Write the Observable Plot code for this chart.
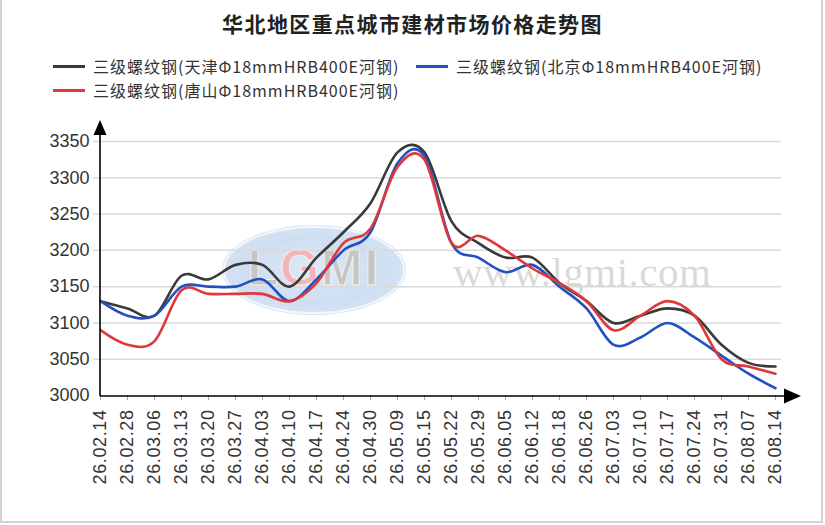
<!DOCTYPE html>
<html>
<head>
<meta charset="utf-8">
<script src="https://cdn.jsdelivr.net/npm/d3@7"></script>
<script src="https://cdn.jsdelivr.net/npm/@observablehq/plot@0.6"></script>
<style>
  body { margin: 0; background: #fff; }
  #wrap { position: relative; width: 825px; height: 525px; overflow: hidden; background: #fff; }
  #frame { position: absolute; left: 0; top: -2px; width: 819px; height: 521px; border: 2px solid #d2d2d2; }
  #title { position: absolute; left: 0; width: 825px; top: 9px; text-align: center;
    font-family: "Noto Sans CJK SC", sans-serif; font-weight: bold; font-size: 21px; line-height: 28px;
    letter-spacing: 1.4px; color: #222; }
  .leg { position: absolute; height: 20px; display: flex; align-items: center; white-space: nowrap; }
  .sw { display: inline-block; width: 32px; height: 3px; margin-right: 8px; }
  .lt { font-family: "Noto Sans CJK SC", sans-serif; font-size: 16px; line-height: 20px; letter-spacing: 1.0px; color: #333; }
  #logo { position: absolute; left: 225px; top: 228px; width: 178px; height: 84px; border-radius: 50%;
    background: radial-gradient(ellipse at center, #d9e6f4 0%, #c6d9ef 55%, #d3e1f2 85%, #eef3fa 100%);
    box-shadow: 0 0 0 2px #f4f7fb, 0 0 0 3px #d4e2f2; opacity: 0.85; }
  #logo span { position: absolute; left: 0; width: 178px; top: 12px; text-align: center;
    font-family: "Liberation Sans", Arial, sans-serif; font-weight: bold; font-size: 50px; line-height: 56px;
    color: #bdbdbd; letter-spacing: 2px; -webkit-text-stroke: 1px #eee; }
  #logo span b { color: #f2a7ad; }
  #wm { position: absolute; left: 453px; top: 252px; font-family: "Liberation Serif", serif; font-size: 41px;
    line-height: 40px; color: rgba(170,170,170,0.45); letter-spacing: 0.5px; }
  #chart { position: absolute; left: 0; top: 0; }
  .xax text { letter-spacing: 0.6px; }
</style>
</head>
<body>
<div id="wrap">
  <div id="logo"><span>L<b>G</b>MI</span></div>
  <div id="wm">www.lgmi.com</div>
  <div id="chart"></div>
  <div id="title">华北地区重点城市建材市场价格走势图</div>
  <div id="frame"></div>
</div>
<script>
const labels = ["26.02.14","26.02.28","26.03.06","26.03.13","26.03.20","26.03.27","26.04.03","26.04.10",
  "26.04.17","26.04.24","26.04.30","26.05.09","26.05.15","26.05.22","26.05.29","26.06.05","26.06.12",
  "26.06.18","26.06.26","26.07.03","26.07.10","26.07.17","26.07.24","26.07.31","26.08.07","26.08.14"];

const tianjin  = [3130,3120,3110,3165,3160,3180,3180,3150,3190,3225,3265,3335,3335,3240,3210,3190,3190,3155,3130,3100,3110,3120,3110,3070,3045,3040];
const beijing  = [3130,3110,3110,3150,3150,3150,3160,3130,3160,3200,3225,3320,3330,3210,3190,3170,3180,3150,3120,3070,3080,3100,3080,3055,3030,3010];
const tangshan = [3090,3070,3075,3145,3140,3140,3140,3130,3155,3210,3230,3315,3325,3210,3220,3200,3175,3155,3130,3090,3110,3130,3110,3050,3040,3030];

const seriesNames = ["三级螺纹钢(天津Φ18mmHRB400E河钢)", "三级螺纹钢(北京Φ18mmHRB400E河钢)", "三级螺纹钢(唐山Φ18mmHRB400E河钢)"];
const seriesColors = ["#3a3a3a", "#2150bf", "#e0383a"];
const yTicks = [3000, 3050, 3100, 3150, 3200, 3250, 3300, 3350];

// legend (HTML)
const legPos = [[53, 56], [416, 56], [53, 80]];
const wrap = document.getElementById("wrap");
seriesNames.forEach((name, i) => {
  const d = document.createElement("div");
  d.className = "leg";
  d.style.left = legPos[i][0] + "px";
  d.style.top = legPos[i][1] + "px";
  d.innerHTML = `<span class="sw" style="background:${seriesColors[i]}"></span><span class="lt">${name}</span>`;
  wrap.appendChild(d);
});

const series = [tianjin, beijing, tangshan];
const rows = [];
series.forEach((vals, s) => vals.forEach((v, i) => rows.push({date: labels[i], value: v, series: seriesNames[s]})));

const chart = Plot.plot({
  width: 825,
  height: 525,
  marginTop: 141,
  marginBottom: 130,
  marginLeft: 93,
  marginRight: 44,
  style: {background: "transparent", fontFamily: "'Liberation Sans', Arial, sans-serif", overflow: "visible"},
  x: {type: "point", domain: labels, padding: 0, label: null},
  y: {domain: [3000, 3350], label: null},
  color: {domain: seriesNames, range: seriesColors},
  marks: [
    Plot.gridY(yTicks.slice(1), {stroke: "#d9d9d9", strokeOpacity: 1, strokeWidth: 1.5}),
    Plot.axisY(yTicks, {tickSize: 0, tickPadding: 4, fontSize: 18, fill: "#333", label: null, tickFormat: d => String(d)}),
    Plot.axisX(labels, {tickSize: 5, tickPadding: 9, tickRotate: -90, fontSize: 18, stroke: "#aaa", fill: "#333", label: null, className: "xax"}),
    Plot.line(rows, {x: "date", y: "value", stroke: "series", z: "series", curve: "cardinal", strokeWidth: 2.6, strokeLinejoin: "round"})
  ]
});
document.getElementById("chart").appendChild(chart);

// axis lines with arrows, positioned through the chart scales
const sx = chart.scale("x"), sy = chart.scale("y");
const x0 = sx.apply(labels[0]);
const xN = sx.apply(labels[labels.length - 1]);
const y0 = sy.apply(3000);
const yT = sy.apply(3350);
const svg = d3.select(chart);
const g = svg.append("g");
g.append("line").attr("x1", x0).attr("x2", x0).attr("y1", y0 + 1).attr("y2", yT - 7)
  .attr("stroke", "#000").attr("stroke-width", 1.6);
g.append("path").attr("d", `M${x0 - 6.5},${yT - 6}L${x0},${yT - 21}L${x0 + 6.5},${yT - 6}Z`).attr("fill", "#000");
g.append("line").attr("x1", x0).attr("x2", xN + 10).attr("y1", y0 + 1).attr("y2", y0 + 1)
  .attr("stroke", "#000").attr("stroke-width", 1.6);
g.append("path").attr("d", `M${xN + 9},${y0 + 1 - 7.5}L${xN + 26},${y0 + 1}L${xN + 9},${y0 + 1 + 7.5}Z`).attr("fill", "#000");
</script>
</body>
</html>
